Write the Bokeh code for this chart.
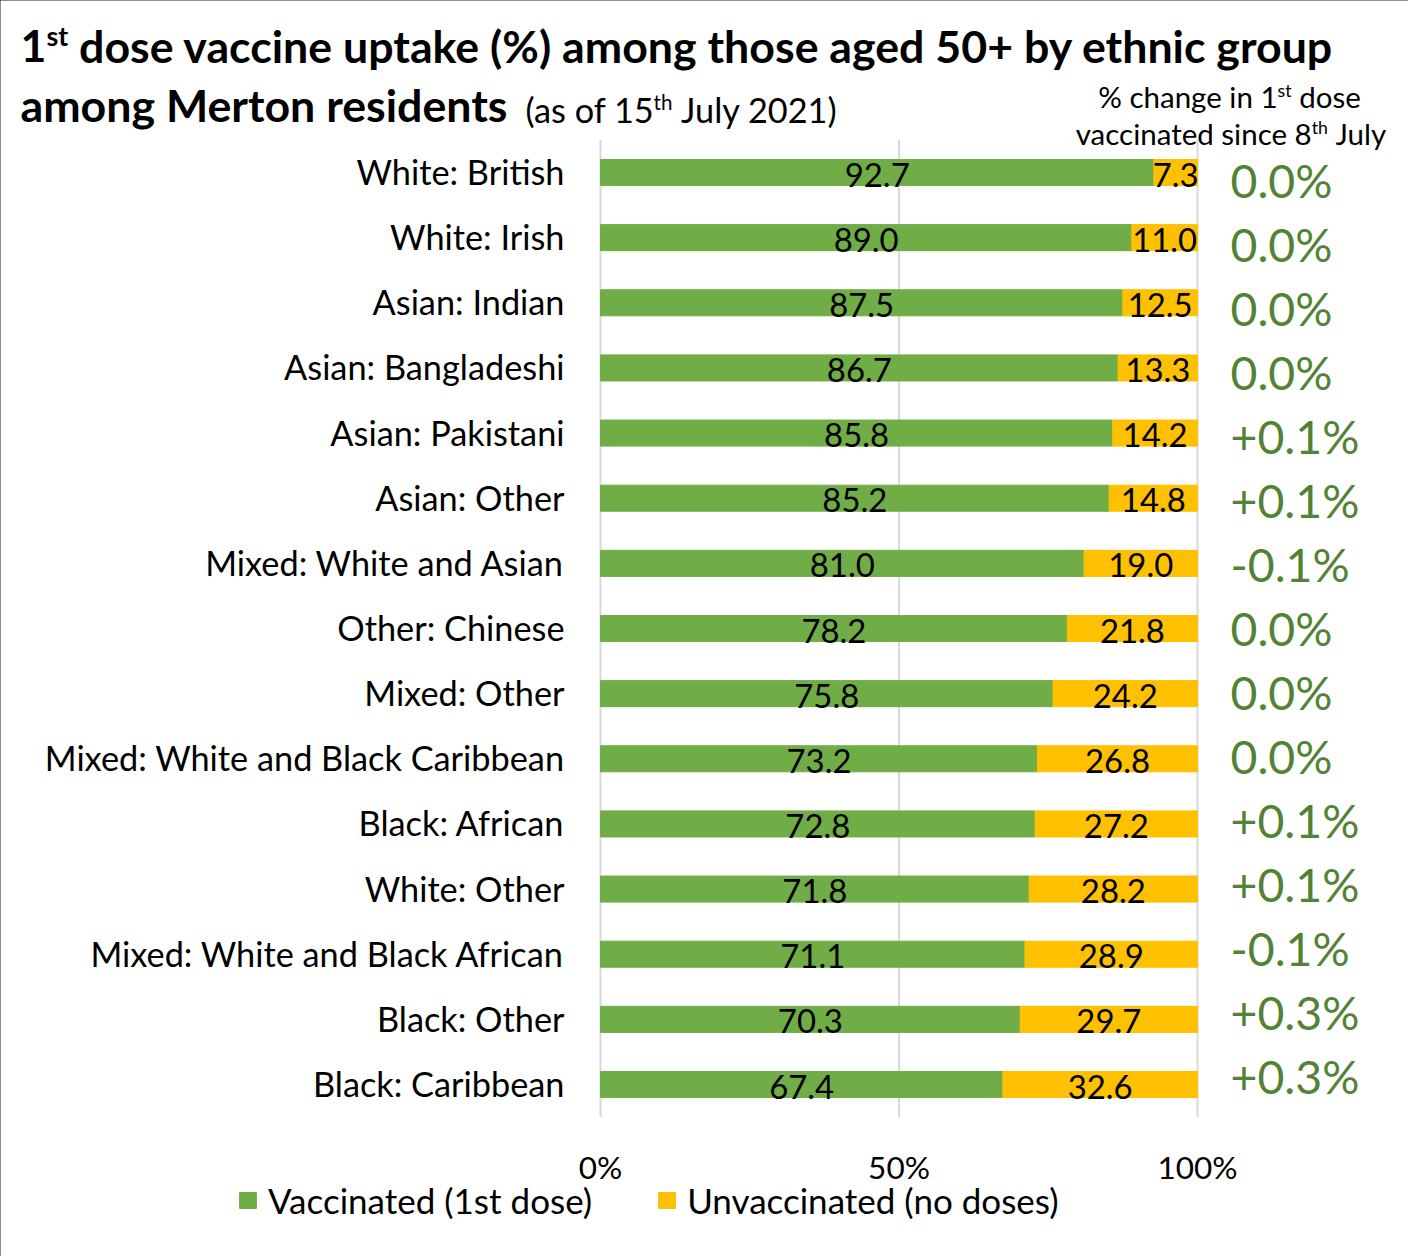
import subprocess
from bokeh.plotting import figure
from bokeh.models import (ColumnDataSource, FactorRange, Range1d, Label, Legend, LegendItem)
from bokeh.transform import dodge
from bokeh.core.properties import value
from bokeh.embed import file_html
from bokeh.resources import INLINE

# ---------------- data ----------------
categories = ["White: British", "White: Irish", "Asian: Indian", "Asian: Bangladeshi",
              "Asian: Pakistani", "Asian: Other", "Mixed: White and Asian", "Other: Chinese",
              "Mixed: Other", "Mixed: White and Black Caribbean", "Black: African",
              "White: Other", "Mixed: White and Black African", "Black: Other",
              "Black: Caribbean"]
vaccinated = [92.7, 89.0, 87.5, 86.7, 85.8, 85.2, 81.0, 78.2, 75.8, 73.2, 72.8, 71.8,
              71.1, 70.3, 67.4]
unvaccinated = [7.3, 11.0, 12.5, 13.3, 14.2, 14.8, 19.0, 21.8, 24.2, 26.8, 27.2, 28.2,
                28.9, 29.7, 32.6]
change = ["0.0%", "0.0%", "0.0%", "0.0%", "+0.1%", "+0.1%", "-0.1%", "0.0%", "0.0%",
          "0.0%", "+0.1%", "+0.1%", "-0.1%", "+0.3%", "+0.3%"]
x_ticks = [0, 50, 100]
x_tick_labels = ["0%", "50%", "100%"]
series_names = ["Vaccinated (1st dose)", "Unvaccinated (no doses)"]

FONT = "Lato"
GREEN = "#70AD47"
YELLOW = "#FFC000"
DARKGREEN = "#548235"
GRID = "#D9D9D9"

W, H = 1408, 1256
X0_PX, X100_PX = 600, 1197          # pixel position of 0% and 100%
ROW_PX = (1086 - 174) / 14.0        # pixel height of a category band
px_per_unit = (X100_PX - X0_PX) / 100.0
pad = (H / ROW_PX - len(categories)) / 2.0

# -------- text measurement (to size texts and place superscripts) --------
_paths = {}
def _font_path(bold):
    if bold not in _paths:
        try:
            q = FONT + (":bold" if bold else ":regular")
            _paths[bold] = subprocess.run(["fc-match", "-f", "%{file}", q], capture_output=True,
                                          text=True, timeout=10).stdout.strip() or None
        except Exception:
            _paths[bold] = None
    return _paths[bold]

HAVE_PIL = True
try:
    from PIL import ImageFont
    ImageFont.truetype(_font_path(False), 20)
except Exception:
    HAVE_PIL = False

def measure(text, size, bold=False):
    if HAVE_PIL:
        try:
            return ImageFont.truetype(_font_path(bold), max(1, int(round(size * 4)))).getlength(text) / 4.0
        except Exception:
            pass
    return len(text) * size * (0.55 if bold else 0.5)

def fit(pieces, target, default):
    """pieces: (text, relative size, bold); returns a font size so the run is target px wide"""
    if not HAVE_PIL:
        return default
    w = sum(measure(t, 100 * r, b) for t, r, b in pieces) / 100.0
    return target / w

# ---------------- figure ----------------
source = ColumnDataSource(dict(
    cat=categories, vac=vaccinated, unv=unvaccinated,
    total=[v + u for v, u in zip(vaccinated, unvaccinated)],
    vac_mid=[v / 2 for v in vaccinated],
    unv_mid=[v + u / 2 for v, u in zip(vaccinated, unvaccinated)],
    vac_lbl=["%.1f" % v for v in vaccinated], unv_lbl=["%.1f" % u for u in unvaccinated],
    change=change,
    change_dy=[7.7 - 1.18 * i for i in range(len(categories))]))

ticks = ColumnDataSource(dict(
    tick=x_ticks, label=x_tick_labels,
    ybot=[categories[-1]] * len(x_ticks), ytop=[categories[0]] * len(x_ticks)))

p = figure(width=W, height=H, output_backend="svg", toolbar_location=None,
           x_axis_location=None, y_axis_location=None,
           y_range=FactorRange(factors=list(reversed(categories)), range_padding=pad,
                               range_padding_units="absolute"),
           x_range=Range1d(-X0_PX / px_per_unit, (W - X0_PX) / px_per_unit),
           min_border=0)
p.outline_line_color = None
p.grid.visible = False
p.styles = {"outline": "2px solid #1a1a1a", "outline-offset": "-2px"}

# vertical gridlines at the ticks, spanning the category bands
p.segment(x0="tick", x1="tick", y0=dodge("ybot", -0.5, range=p.y_range),
          y1=dodge("ytop", 0.5, range=p.y_range), source=ticks, line_color=GRID, line_width=2)

r1 = p.hbar(y="cat", left=0, right="vac", height=0.4, color=GREEN, source=source)
r2 = p.hbar(y="cat", left="vac", right="total", height=0.4, color=YELLOW, source=source)

# sizes fitted to the reference widths
CAT_FS = fit([("Mixed: White and Black Caribbean", 1, False)], 520, 34)
BAR_FS = fit([("92.7", 1, False)], 65, 33)
CHG_FS = fit([("+0.3%", 1, False)], 129, 48)
TICK_FS = fit([("100%", 1, False)], 80, 33)
LEG_FS = fit([("Vaccinated (1st dose)", 1, False)], 324, 33)

# category labels (left)
p.text(x=(564 - X0_PX) / px_per_unit, y="cat", text="cat", source=source, text_align="right",
       text_baseline="middle", y_offset=-1, text_font=value(FONT),
       text_font_size="%.1fpx" % CAT_FS, text_color="black")

# value labels in the bars
for xcol, lcol in (("vac_mid", "vac_lbl"), ("unv_mid", "unv_lbl")):
    p.text(x=xcol, y="cat", text=lcol, source=source, text_align="center",
           text_baseline="middle", y_offset=2, text_font=value(FONT),
           text_font_size="%.1fpx" % BAR_FS, text_color="black")

# % change column (right)
p.text(x=(1230 - X0_PX) / px_per_unit, y="cat", text="change", source=source, text_align="left",
       text_baseline="middle", y_offset="change_dy", text_font=value(FONT),
       text_font_size="%.1fpx" % CHG_FS, text_color=DARKGREEN)

# x tick labels
p.text(x="tick", y=dodge("ybot", -0.5, range=p.y_range), text="label", source=ticks,
       text_align="center", text_baseline="middle", y_offset=50, text_font=value(FONT),
       text_font_size="%.1fpx" % TICK_FS, text_color="black")

# ---------------- rich text labels (with superscripts) ----------------
BASE_SHIFT = 0.41   # svg label baseline correction, in em

def rich(pieces, x, baseline_y, size, align="left"):
    """pieces: (text, relative size, bold, superscript)"""
    widths = [measure(t, size * r, b) for t, r, b, s in pieces]
    total = sum(widths)
    cx = x if align == "left" else x - total / 2
    for (t, r, b, sup), w in zip(pieces, widths):
        fs = size * r
        stripped = t.lstrip(" ")
        lead = measure(t[:len(t) - len(stripped)], fs, b) if stripped != t else 0.0
        by = baseline_y - (0.38 * size if sup else 0) - BASE_SHIFT * fs
        p.add_layout(Label(x=cx + lead, y=by, x_units="canvas", y_units="canvas",
                           text=stripped, text_font=FONT, text_font_size="%.1fpx" % fs,
                           text_font_style="bold" if b else "normal",
                           text_align="left", text_baseline="alphabetic",
                           text_color="black"))
        cx += w
    return cx

title1 = [("1", 1, True, False), ("st", 0.6, True, True),
          (" dose vaccine uptake (%) among those aged 50+ by ethnic group", 1, True, False)]
TS = fit([(t, r, b) for t, r, b, s in title1], 1313, 40)
rich(title1, 20, 64, TS)
end2 = rich([("among Merton residents", 1, True, False)], 20, 123, TS)

sub = [("(as of 15", 1, False, False), ("th", 0.6, False, True), (" July 2021)", 1, False, False)]
SS = fit([(t, r, b) for t, r, b, s in sub], 310, 31)
rich(sub, max(525, end2 + 10), 123, SS)

head1 = [("% change in 1", 1, False, False), ("st", 0.6, False, True), (" dose", 1, False, False)]
head2 = [("vaccinated since 8", 1, False, False), ("th", 0.6, False, True), (" July", 1, False, False)]
HS = (fit([(t, r, b) for t, r, b, s in head1], 262, 27) +
      fit([(t, r, b) for t, r, b, s in head2], 310, 27)) / 2
rich(head1, 1229, 108, HS, align="center")
rich(head2, 1230, 145, HS, align="center")

# ---------------- legend ----------------
row_h = 1.2 * LEG_FS
legend = Legend(items=[LegendItem(label=series_names[0], renderers=[r1]),
                       LegendItem(label=series_names[1], renderers=[r2])],
                orientation="horizontal", location=(237, H - 1200 - row_h / 2),
                glyph_width=21, glyph_height=20, label_standoff=10, spacing=64,
                label_text_font=FONT, label_text_font_size="%.1fpx" % LEG_FS,
                label_text_color="black",
                border_line_color=None, background_fill_alpha=0, padding=0, margin=0)
p.add_layout(legend, "center")

open("out.html", "w").write(file_html(p, INLINE))
